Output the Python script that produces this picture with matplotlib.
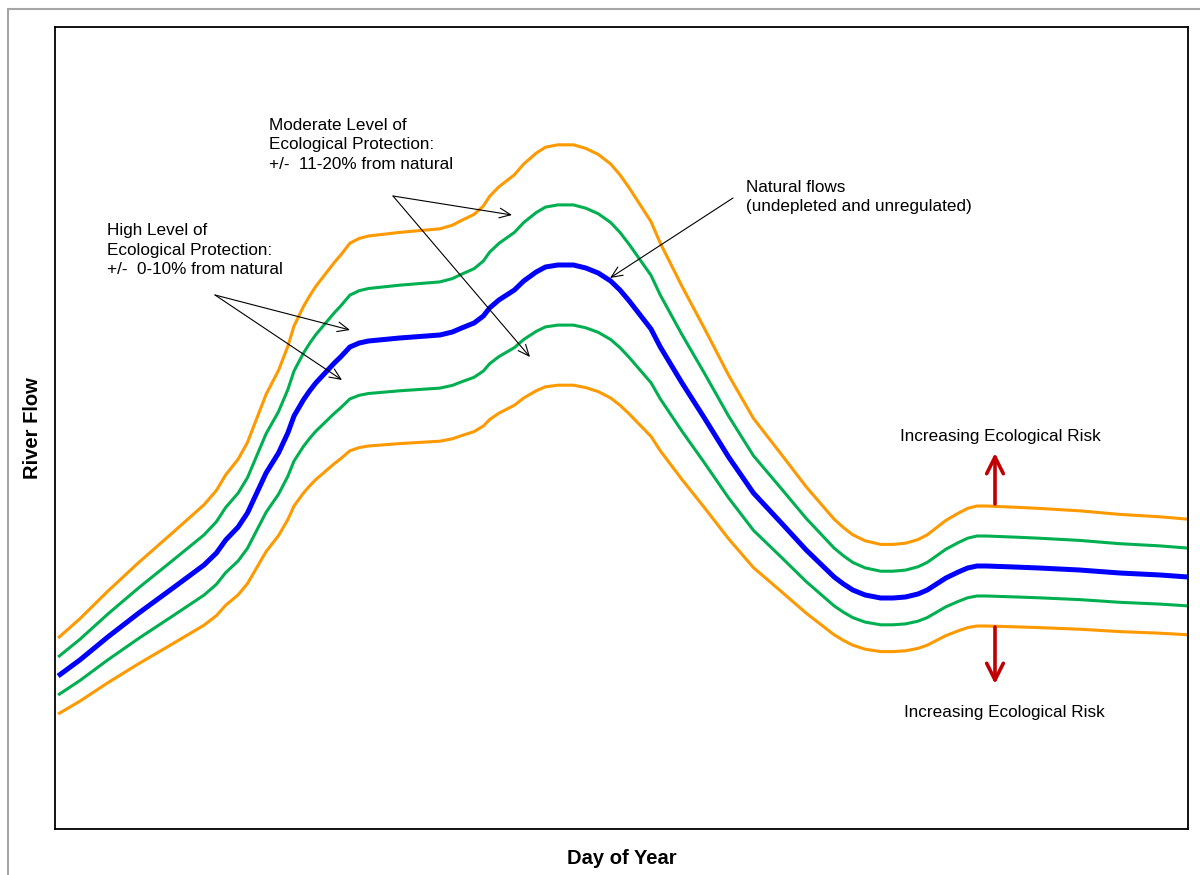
import matplotlib.pyplot as plt
from matplotlib.patches import Rectangle

# natural (undepleted, unregulated) flow
day = [1, 8, 17, 27, 38, 48, 52, 55, 59, 62, 65, 68, 72, 75, 77, 80, 82, 84, 90,
       92, 95, 98, 101, 111, 124, 128, 131, 135, 138, 140, 143, 148, 151, 155,
       158, 162, 167, 171, 175, 179, 182, 185, 188, 192, 195, 202, 209, 217, 225,
       234, 242, 251, 254, 257, 261, 266, 270, 274, 278, 281, 284, 287, 291, 294,
       297, 300, 309, 317, 330, 343, 356, 365]
natural_flow = [190, 206, 229, 253, 278, 301, 313, 326, 339, 353, 373, 393, 413,
                433, 450, 466, 475, 483, 503, 509, 519, 523, 525, 528, 531, 534,
                538, 543, 550, 558, 566, 576, 585, 594, 599, 601, 601, 598, 593,
                585, 576, 565, 553, 537, 519, 483, 449, 409, 373, 343, 316, 289,
                282, 276, 271, 268, 268, 269, 272, 276, 282, 288, 294, 298, 300,
                300, 299, 298, 296, 293, 291, 289]

# protection bands as a share of natural flow (+/-10% and +/-20%)
band_factors = [1.2, 1.1, 0.9, 0.8]
band_colors = ['#FF9900', '#00B050', '#00B050', '#FF9900']

plt.rcParams['font.family'] = ['Liberation Sans', 'DejaVu Sans']

W, H = 1200, 875


def fig_xy(px, py):
    # pixel position on the picture -> figure fraction
    return (px / W, 1 - py / H)


fig = plt.figure(figsize=(12, 8.75), dpi=100)
ax = fig.add_axes([55 / W, 1 - 829 / H, (1188 - 55) / W, (829 - 27) / H])

# outer chart-area frame
fig.add_artist(Rectangle(fig_xy(8, 1000), 1.2, (1000 - 9) / H, transform=fig.transFigure,
                         fill=False, edgecolor='#a6a6a6', lw=1.5))

for f, c in zip(band_factors, band_colors):
    ax.plot(day, [v * f for v in natural_flow], color=c, lw=2.2,
            solid_capstyle='butt', solid_joinstyle='round')
ax.plot(day, natural_flow, color='#0000FF', lw=3.6,
        solid_capstyle='butt', solid_joinstyle='round')

ax.set_xlim(0, 365)
ax.set_ylim(37, 839)
ax.set_xticks([])
ax.set_yticks([])
for s in ax.spines.values():
    s.set_linewidth(1.3)

fig.text(*fig_xy(33, 428), 'River Flow', rotation=90, ha='center', va='center',
         fontsize=14.5, fontweight='bold')
fig.text(*fig_xy(622, 858), 'Day of Year', ha='center', va='center',
         fontsize=14.5, fontweight='bold')

tsize = 12.3
fig.text(*fig_xy(269, 145), 'Moderate Level of\nEcological Protection:\n+/-  11-20% from natural',
         ha='left', va='center', fontsize=tsize, linespacing=1.38)
fig.text(*fig_xy(107, 250), 'High Level of\nEcological Protection:\n+/-  0-10% from natural',
         ha='left', va='center', fontsize=tsize, linespacing=1.38)
fig.text(*fig_xy(746, 197), 'Natural flows\n(undepleted and unregulated)',
         ha='left', va='center', fontsize=tsize, linespacing=1.38)
fig.text(*fig_xy(1000, 437), 'Increasing Ecological Risk', ha='center', va='center', fontsize=tsize)
fig.text(*fig_xy(1004, 712), 'Increasing Ecological Risk', ha='center', va='center', fontsize=tsize)

black = dict(arrowstyle='->,head_length=0.8,head_width=0.35', lw=0.8, color='black',
             shrinkA=0, shrinkB=0)
pointers = [((393, 196), (512, 215)), ((393, 196), (530, 357)),
            ((215, 295), (350, 330)), ((215, 295), (342, 380)),
            ((733, 198), (610, 278))]
for start, end in pointers:
    ax.annotate('', xy=fig_xy(*end), xytext=fig_xy(*start), xycoords='figure fraction',
                textcoords='figure fraction', arrowprops=black, annotation_clip=False)

red = dict(arrowstyle='->,head_length=1.2,head_width=0.6', lw=2.6, color='#C00000',
           shrinkA=0, shrinkB=0)
for start, end in [((995, 504), (995, 453)), ((995, 627), (995, 684))]:
    ax.annotate('', xy=fig_xy(*end), xytext=fig_xy(*start), xycoords='figure fraction',
                textcoords='figure fraction', arrowprops=red, annotation_clip=False)

fig.savefig('out.png', dpi=100)
